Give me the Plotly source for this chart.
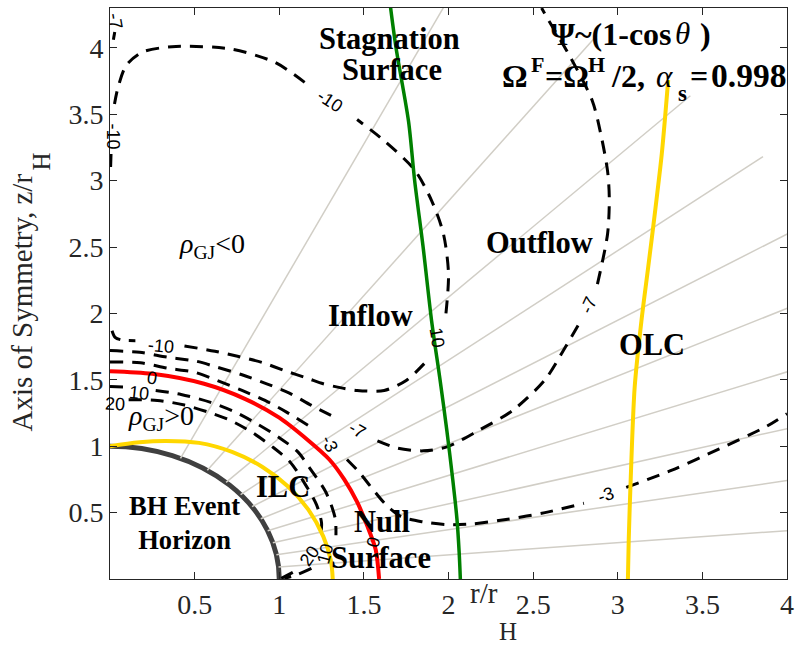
import numpy as np
import plotly.graph_objects as go

# ---------------------------------------------------------------------------
# Geometry of the magnetosphere (coordinates in units of the horizon radius)
# ---------------------------------------------------------------------------

# Radial monopole field lines, Psi ~ (1 - cos theta): angle from the axis (deg)
FIELD_ANGLES_DEG = [24.6, 35.1, 43.3, 50.5, 57.0, 63.0, 68.7, 74.2, 79.5, 84.8]
FIELD_R_START = 1.0
FIELD_R_END = 5.0

HORIZON_R = 1.0

# Inner light cylinder
ILC_X = [0.0, 0.174, 0.33, 0.526, 0.721, 0.903, 1.052, 1.172, 1.26, 1.304, 1.316]
ILC_Y = [1.0, 1.03, 1.04, 1.025, 0.957, 0.842, 0.697, 0.522, 0.321, 0.144, 0.0]

# Null surface (rho_GJ = 0)
NULL_X = [0.0, 0.25, 0.556, 0.8, 1.0, 1.17, 1.296, 1.384, 1.46, 1.52, 1.57, 1.59]
NULL_Y = [1.565, 1.545, 1.47, 1.355, 1.215, 1.045, 0.90, 0.75, 0.58, 0.40, 0.22, 0.0]

# Stagnation surface
STAG_X = [1.657, 1.69, 1.764, 1.80, 1.85, 1.90, 1.95, 1.99, 2.025, 2.05, 2.063, 2.07]
STAG_Y = [4.31, 4.0, 3.445, 3.0, 2.5, 1.945, 1.5, 1.12, 0.75, 0.45, 0.2, 0.0]

# Outer light cylinder
OLC_X = [3.06, 3.065, 3.075, 3.10, 3.14, 3.18, 3.216, 3.26, 3.298]
OLC_Y = [0.0, 0.3, 0.695, 1.445, 1.945, 2.35, 2.72, 3.2, 3.758]

# Contours of rho_GJ (None marks the gap left for an inline label)
RHO_M10_X = [0.012, 0.03, 0.07, 0.15, None, 0.44, 0.62, 0.76, 0.90, 1.03, 1.17,
             1.26, 1.345, 1.46, 1.62, 1.75, 1.87, None, 1.985, 2.0, 1.97, 1.9,
             1.80, 1.62, 1.46, None, 1.15, 0.975, 0.72, 0.39, 0.195, 0.097,
             0.047, 0.023, None, 0.006, 0.003]
RHO_M10_Y = [1.87, 1.82, 1.80, 1.795, None, 1.755, 1.715, 1.675, 1.63, 1.57, 1.51,
             1.47, 1.445, 1.42, 1.42, 1.495, 1.64, None, 2.0, 2.3, 2.6, 2.85,
             3.08, 3.30, 3.46, None, 3.74, 3.89, 3.99, 4.01, 3.97, 3.87,
             3.7, 3.55, None, 3.2, 3.08]

RHO_M7_X = [0.0, 0.175, 0.34, 0.51, 0.633, 0.78, 0.926, 1.06, 1.19, 1.325, None,
            1.58, 1.70, 1.85, 1.99, 2.18, 2.38, 2.57, 2.69, 2.77, None, 2.88,
            2.94, 2.95, 2.94, 2.90, 2.85, 2.72, 2.59, 2.55]
RHO_M7_Y = [1.72, 1.707, 1.67, 1.64, 1.595, 1.538, 1.47, 1.40, 1.307, 1.22, None,
            1.04, 0.985, 0.965, 0.995, 1.12, 1.27, 1.5, 1.745, 1.92, None, 2.22,
            2.6, 2.87, 3.07, 3.35, 3.6, 3.93, 4.21, 4.3]
RHO_M7_CORNER_X = [0.02, 0.028]
RHO_M7_CORNER_Y = [4.06, 4.12]

RHO_M3_X = [0.0, 0.18, 0.34, 0.50, 0.633, 0.78, 0.916, 1.043, 1.17, None, 1.40,
            1.475, 1.55, 1.63, 1.72, 1.85, 1.99, 2.14, 2.35, 2.57, 2.8, None,
            3.05, 3.32, 3.6, 3.88, 4.0]
RHO_M3_Y = [1.635, 1.628, 1.587, 1.557, 1.495, 1.42, 1.345, 1.257, 1.157, None, 0.90,
            0.80, 0.68, 0.56, 0.47, 0.43, 0.41, 0.415, 0.45, 0.5, 0.57, None,
            0.69, 0.82, 0.98, 1.15, 1.245]

RHO_P10_X = [0.0, 0.09, None, 0.27, 0.42, 0.595, 0.74, 0.867, 0.994, 1.11, 1.18,
             1.275, 1.33, 1.335, None, 1.19, 1.10, 1.03]
RHO_P10_Y = [1.45, 1.445, None, 1.42, 1.39, 1.33, 1.257, 1.17, 1.07, 0.957, 0.835,
             0.655, 0.46, 0.33, None, 0.08, 0.03, 0.005]

RHO_P20_X = [None, 0.11, 0.28, 0.44, 0.58, 0.71, 0.836, 0.96, 1.065, 1.15, 1.22,
             1.25, 1.24, None, 1.08, 1.01]
RHO_P20_Y = [None, 1.35, 1.345, 1.31, 1.257, 1.195, 1.107, 0.995, 0.88, 0.72, 0.56,
             0.42, 0.30, None, 0.05, 0.003]

# Inline contour labels: text, x, y, rotation (deg, clockwise)
CONTOUR_LABELS = [
    ("-7", 0.03, 4.2, 80),
    ("-10", 0.02, 3.33, 90),
    ("-10", 1.30, 3.60, 33),
    ("10", 1.93, 1.82, 80),
    ("-10", 0.30, 1.755, 5),
    ("0", 0.25, 1.515, 8),
    ("10", 0.17, 1.40, 6),
    ("20", 0.03, 1.32, 3),
    ("-7", 1.46, 1.12, 30),
    ("-3", 1.30, 1.02, 65),
    ("-7", 2.83, 2.06, -65),
    ("-3", 2.93, 0.63, -18),
    ("0", 1.556, 0.28, -75),
    ("20", 1.18, 0.17, -55),
    ("10", 1.27, 0.19, -75),
]

X_TICKS = [0.5, 1, 1.5, 2, 2.5, 3, 3.5, 4]
X_TICK_TEXT = ["0.5", "1", "1.5", "2", "2.5", "3", "3.5", "4"]
Y_TICKS = [0.5, 1, 1.5, 2, 2.5, 3, 3.5, 4]
Y_TICK_TEXT = ["0.5", "1", "1.5", "2", "2.5", "3", "3.5", "4"]

SERIF = "Liberation Serif"
SANS = "Liberation Sans"
AXIS_COLOR = "#262626"

W, H = 801, 646
ML, MR, MT, MB = 110, 7, 7, 67

fig = go.Figure()

# field lines
fx, fy = [], []
for a in FIELD_ANGLES_DEG:
    t = np.deg2rad(a)
    fx += [FIELD_R_START * np.sin(t), FIELD_R_END * np.sin(t), None]
    fy += [FIELD_R_START * np.cos(t), FIELD_R_END * np.cos(t), None]
fig.add_trace(go.Scatter(x=fx, y=fy, mode="lines", hoverinfo="skip",
                         line=dict(color="#d1cec6", width=1.5)))

# rho_GJ contours
dash_style = dict(color="black", width=3, dash="13px,9px")
for cx, cy in [(RHO_M10_X, RHO_M10_Y), (RHO_M7_X, RHO_M7_Y),
               (RHO_M7_CORNER_X, RHO_M7_CORNER_Y), (RHO_M3_X, RHO_M3_Y),
               (RHO_P10_X, RHO_P10_Y), (RHO_P20_X, RHO_P20_Y)]:
    fig.add_trace(go.Scatter(x=cx, y=cy, mode="lines", hoverinfo="skip",
                             line=dict(shape="spline", smoothing=0.8, **dash_style)))

# characteristic surfaces
fig.add_trace(go.Scatter(x=ILC_X, y=ILC_Y, mode="lines",
                         line=dict(color="#ffd700", width=4, shape="spline", smoothing=1.0)))
fig.add_trace(go.Scatter(x=NULL_X, y=NULL_Y, mode="lines",
                         line=dict(color="#ff0000", width=4, shape="spline", smoothing=0.8)))
fig.add_trace(go.Scatter(x=STAG_X, y=STAG_Y, mode="lines",
                         line=dict(color="#008000", width=3.5, shape="spline", smoothing=0.8)))
fig.add_trace(go.Scatter(x=OLC_X, y=OLC_Y, mode="lines",
                         line=dict(color="#ffd700", width=4, shape="spline", smoothing=0.8)))

# black hole event horizon
fig.add_shape(type="circle", xref="x", yref="y",
              x0=-HORIZON_R, y0=-HORIZON_R, x1=HORIZON_R, y1=HORIZON_R,
              line=dict(color="#404040", width=5), layer="below")

# contour labels
for txt, lx, ly, ang in CONTOUR_LABELS:
    fig.add_annotation(x=lx, y=ly, text=txt, showarrow=False, textangle=ang,
                       font=dict(family=SANS, size=18, color="black"))


def fnt(size=30.5, color="black"):
    return dict(family=SERIF, size=size, color=color)


def label(text, x, y, font=None, **kw):
    fig.add_annotation(x=x, y=y, text=text, showarrow=False,
                       font=font or fnt(), **kw)


label("<b>Stagnation</b>", 1.652, 4.07)
label("<b>Surface</b>", 1.667, 3.83)
label("<b>Outflow</b>", 2.54, 2.53)
label("<b>Inflow</b>", 1.538, 1.98)
label("<b>OLC</b>", 3.205, 1.76)
label("<b>ILC</b>", 1.023, 0.69)
label("<b>BH Event</b><br><b>Horizon</b>", 0.44, 0.42, font=fnt(26.5))
label("<b>Null</b>", 1.61, 0.43)
label("<b>Surface</b>", 1.60, 0.16)
label("<i>ρ</i><sub>GJ</sub>&lt;0", 0.60, 2.51, font=fnt(28))
label("<i>ρ</i><sub>GJ</sub>&gt;0", 0.30, 1.22, font=fnt(28))


# text placed in pixels, converted to paper coordinates
def px(xp):
    return (xp - ML) / (W - ML - MR)


def py(yp):
    return (H - MB - yp) / (H - MT - MB)


def pix_text(text, xp, yp, font, xanchor="center", angle=0):
    fig.add_annotation(xref="paper", yref="paper", x=px(xp), y=py(yp), text=text,
                       showarrow=False, font=font, xanchor=xanchor, yanchor="middle",
                       textangle=angle)


# model parameters, with raised / lowered pieces placed individually
pix_text("<b>Ψ~(1-cos</b>", 553, 33, fnt(32), xanchor="left")
pix_text("<i>θ</i>", 679, 33, fnt(31), xanchor="left")
pix_text("<b>)</b>", 704, 33, fnt(32), xanchor="left")

pix_text("<b>Ω</b>", 504, 75, fnt(32), xanchor="left")
pix_text("<b>F</b>", 533, 64, fnt(22), xanchor="left")
pix_text("<b>=Ω</b>", 547, 75, fnt(32), xanchor="left")
pix_text("<b>H</b>", 591, 64, fnt(22), xanchor="left")
pix_text("<b>/2,</b>", 614, 75, fnt(32), xanchor="left")
pix_text("<i>α</i>", 660, 76, fnt(31), xanchor="left")
pix_text("<b>s</b>", 682, 93, fnt(23), xanchor="left")
pix_text("<b>=</b>", 694, 75, fnt(32), xanchor="left")
pix_text("<b>0.998</b>", 715, 75, fnt(33.5), xanchor="left")

# axis titles
pix_text("Axis of Symmetry, z/r", 22, 302, fnt(29, AXIS_COLOR), angle=-90)
pix_text("H", 41, 161, fnt(25, AXIS_COLOR), angle=-90)
pix_text("r/r", 488, 593, fnt(29, AXIS_COLOR))
pix_text("H", 512, 632, fnt(25, AXIS_COLOR))

axis_common = dict(showgrid=False, zeroline=False, showline=True, linecolor=AXIS_COLOR,
                   linewidth=1, mirror="ticks", ticks="inside", ticklen=7,
                   tickcolor=AXIS_COLOR, tickwidth=1,
                   tickfont=dict(family=SERIF, size=28, color=AXIS_COLOR))

fig.update_layout(
    width=W, height=H, showlegend=False,
    margin=dict(l=ML, r=MR, t=MT, b=MB),
    paper_bgcolor="white", plot_bgcolor="white",
    xaxis=dict(range=[0, 4], tickvals=X_TICKS, ticktext=X_TICK_TEXT, **axis_common),
    yaxis=dict(range=[0, 4.3], tickvals=Y_TICKS, ticktext=Y_TICK_TEXT, **axis_common),
)

fig.write_html("out.html")
